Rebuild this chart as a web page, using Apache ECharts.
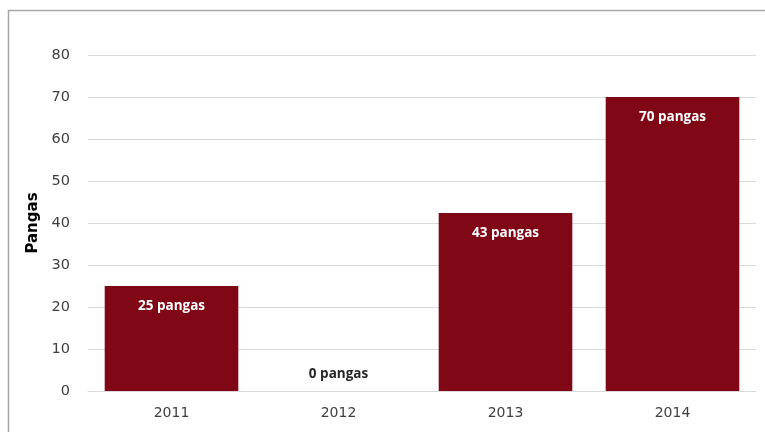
<!DOCTYPE html>
<html>
<head>
<meta charset="utf-8">
<script src="https://cdn.jsdelivr.net/npm/echarts@6/dist/echarts.min.js"></script>
<style>
  html, body { margin: 0; padding: 0; background: #fff; }
  #chart { width: 765px; height: 432px; }
</style>
</head>
<body>
<div id="chart"></div>
<script>
const years = ["2011", "2012", "2013", "2014"];
const pangas = [25, 0, 42.4, 70];
const barLabels = ["25 pangas", "0 pangas", "43 pangas", "70 pangas"];

const chart = echarts.init(document.getElementById("chart"));

const seriesData = pangas.map((v, i) => {
  const item = { value: v };
  if (v === 0) {
    // empty bar: label sits above the axis, in dark text
    item.label = { position: "top", distance: 10, color: "#262626" };
  }
  return item;
});

const option = {
  animation: false,
  graphic: [
    {
      type: "rect",
      shape: { x: 8.5, y: 10.5, width: 800, height: 500 },
      style: { fill: "none", stroke: "#a6a6a6", lineWidth: 1.5 },
      silent: true
    }
  ],
  grid: { left: 88, right: 9, top: 55, bottom: 41 },
  xAxis: {
    type: "category",
    data: years,
    axisLine: { lineStyle: { color: "#d9d9d9" } },
    axisTick: { show: false },
    axisLabel: { color: "#404040", fontSize: 14, fontFamily: "DejaVu Sans", margin: 15 }
  },
  yAxis: {
    type: "value",
    min: 0,
    max: 80,
    interval: 10,
    name: "Pangas",
    nameLocation: "middle",
    nameGap: 46,
    nameTextStyle: { color: "#000", fontSize: 15, fontWeight: "bold", fontFamily: "DejaVu Sans" },
    axisLine: { show: false },
    axisTick: { show: false },
    splitLine: { lineStyle: { color: "#d9d9d9" } },
    axisLabel: { color: "#404040", fontSize: 14.5, fontFamily: "DejaVu Sans", margin: 18 }
  },
  series: [
    {
      type: "bar",
      data: seriesData,
      barWidth: "80%",
      itemStyle: { color: "#7f0716" },
      label: {
        show: true,
        position: "insideTop",
        distance: 13,
        color: "#fff",
        fontSize: 13.5,
        fontWeight: "bold",
        fontFamily: "Open Sans",
        formatter: p => barLabels[p.dataIndex]
      }
    }
  ]
};

chart.setOption(option);
</script>
</body>
</html>
